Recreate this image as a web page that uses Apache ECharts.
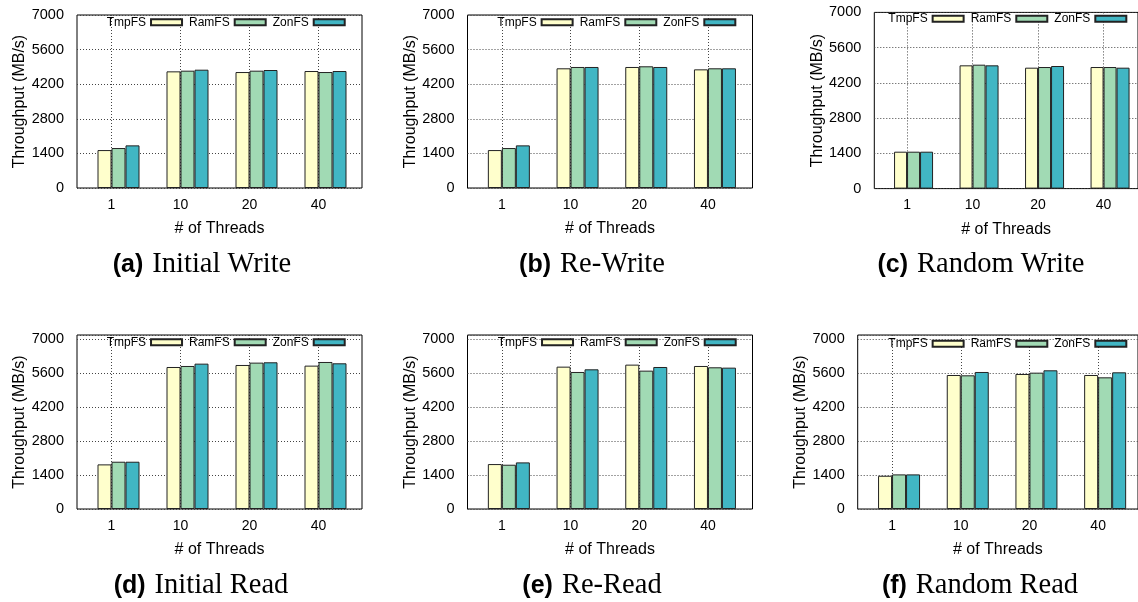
<!DOCTYPE html>
<html><head><meta charset="utf-8">
<script src="https://cdn.jsdelivr.net/npm/echarts@6/dist/echarts.min.js"></script>
<style>html,body{margin:0;padding:0;background:#fff}#c{width:1138px;height:602px}</style>
</head><body><div id="c"></div>
<script>
// ---- data ----
const categories = ['1', '10', '20', '40'];
const seriesNames = ['TmpFS', 'RamFS', 'ZonFS'];
const yTickStep = 1400;

const initialWriteTmpFS = [1535, 4720, 4692, 4733];
const initialWriteRamFS = [1617, 4747, 4747, 4692];
const initialWriteZonFS = [1725, 4787, 4774, 4733];

const reWriteTmpFS = [1535, 4843, 4897, 4801];
const reWriteRamFS = [1617, 4897, 4924, 4843];
const reWriteZonFS = [1725, 4897, 4897, 4843];

const randomWriteTmpFS = [1466, 4897, 4804, 4830];
const randomWriteRamFS = [1466, 4923, 4830, 4830];
const randomWriteZonFS = [1466, 4897, 4870, 4804];

const initialReadTmpFS = [1841, 5860, 5943, 5916];
const initialReadRamFS = [1951, 5902, 6040, 6067];
const initialReadZonFS = [1951, 5998, 6054, 6012];

const reReadTmpFS = [1854, 5874, 5957, 5902];
const reReadRamFS = [1827, 5654, 5709, 5847];
const reReadZonFS = [1923, 5764, 5860, 5833];

const randomReadTmpFS = [1372, 5530, 5571, 5530];
const randomReadRamFS = [1428, 5516, 5626, 5433];
const randomReadZonFS = [1428, 5654, 5723, 5640];

// ---- layout / style ----
const colors = ['#ffffcc', '#a1dab4', '#41b6c4'];
const SANS = 'Liberation Sans, Arial, Helvetica, sans-serif';
const SERIF = 'Liberation Serif, Times New Roman, serif';

const panels = [
  {tag: '(a)', caption: 'Initial Write', values: [initialWriteTmpFS, initialWriteRamFS, initialWriteZonFS],
   left: 77, top: 15, height: 173, width: 285, band: 69, bar: 14, yMax: 7000, legX: 106.7, legY: 21.7, capX: 202, capY: 265},
  {tag: '(b)', caption: 'Re-Write', values: [reWriteTmpFS, reWriteRamFS, reWriteZonFS],
   left: 467.5, top: 15, height: 173, width: 285, band: 68.7, bar: 14, yMax: 7000, legX: 497.3, legY: 21.7, capX: 592, capY: 265},
  {tag: '(c)', caption: 'Random Write', values: [randomWriteTmpFS, randomWriteRamFS, randomWriteZonFS],
   left: 874.3, top: 12.4, height: 176.2, width: 272, band: 65.5, bar: 13, yMax: 7000, legX: 888.3, legY: 18.3, capX: 981, capY: 265},
  {tag: '(d)', caption: 'Initial Read', values: [initialReadTmpFS, initialReadRamFS, initialReadZonFS],
   left: 77, top: 335, height: 174, width: 285, band: 69, bar: 14, yMax: 7180, legX: 106.7, legY: 341.7, capX: 201, capY: 586},
  {tag: '(e)', caption: 'Re-Read', values: [reReadTmpFS, reReadRamFS, reReadZonFS],
   left: 467.5, top: 335, height: 174, width: 285, band: 68.7, bar: 14, yMax: 7180, legX: 497.7, legY: 341.7, capX: 592, capY: 586},
  {tag: '(f)', caption: 'Random Read', values: [randomReadTmpFS, randomReadRamFS, randomReadZonFS],
   left: 857.7, top: 335, height: 174, width: 284, band: 68.7, bar: 14, yMax: 7180, legX: 888.3, legY: 343.3, capX: 980, capY: 586}
];

const grid = [], xAxis = [], yAxis = [], series = [], legend = [], graphic = [];
const gridLine = {type: [1, 2], color: '#444', width: 1};

panels.forEach((p, i) => {
  const fg = 2 * i, bg = 2 * i + 1;
  grid.push({left: p.left, top: p.top, width: p.width, height: p.height, show: true,
             borderColor: '#000', borderWidth: 1, backgroundColor: 'transparent'});
  grid.push({left: p.left, top: p.top, width: p.band * categories.length, height: p.height, show: false});

  xAxis.push({gridIndex: fg, type: 'value', min: 0, max: 1,
    axisLine: {show: false}, axisTick: {show: false}, axisLabel: {show: false}, splitLine: {show: false},
    name: '# of Threads', nameLocation: 'middle', nameGap: 33,
    nameTextStyle: {fontSize: 16, color: '#000', fontFamily: SANS}});
  xAxis.push({gridIndex: bg, type: 'category', data: categories,
    axisLine: {show: false}, axisTick: {show: false},
    axisLabel: {fontSize: 14, color: '#000', margin: 10, fontFamily: SANS},
    splitLine: {show: true, alignWithLabel: true, lineStyle: gridLine}});

  yAxis.push({gridIndex: fg, type: 'value', min: 0, max: p.yMax, interval: yTickStep,
    axisLine: {show: false}, axisTick: {show: false},
    axisLabel: {fontSize: 14.5, color: '#000', margin: 13, fontFamily: SANS,
      showMaxLabel: p.yMax % yTickStep === 0, formatter: v => String(v)},
    splitLine: {show: true, lineStyle: gridLine},
    name: 'Throughput (MB/s)', nameLocation: 'middle', nameGap: 47,
    nameTextStyle: {fontSize: 16, color: '#000', fontFamily: SANS}});
  yAxis.push({gridIndex: bg, type: 'value', min: 0, max: p.yMax, show: false});

  // empty leading slot (gnuplot cluster gap)
  series.push({type: 'bar', name: '_gap' + i, xAxisIndex: bg, yAxisIndex: bg, data: [],
    barWidth: p.bar, barGap: '0%'});
  seriesNames.forEach((n, k) => {
    series.push({type: 'bar', name: n, xAxisIndex: bg, yAxisIndex: bg, data: p.values[k],
      barWidth: p.bar, barGap: '0%',
      itemStyle: {color: colors[k], borderColor: '#222', borderWidth: 1},
      emphasis: {disabled: true}, animation: false});
  });

  legend.push({data: seriesNames, left: p.legX, top: p.legY - 5.5, align: 'right', orient: 'horizontal',
    padding: 0, itemWidth: 31, itemHeight: 6, itemGap: 6, icon: 'rect', selectedMode: false,
    textStyle: {fontSize: 12, color: '#000', fontFamily: SANS, width: 40, align: 'right'}});

  graphic.push({type: 'text', x: p.capX, y: p.capY, silent: true,
    style: {text: '{b|' + p.tag + '}{s| }{r|' + p.caption + '}', align: 'center', verticalAlign: 'middle',
      rich: {b: {fontFamily: SANS, fontWeight: 'bold', fontSize: 25, fill: '#000'},
             s: {fontFamily: SERIF, fontSize: 28, width: 9},
             r: {fontFamily: SERIF, fontSize: 28.5, fill: '#000'}}}});
});

const chart = echarts.init(document.getElementById('c'), null, {renderer: 'canvas'});
chart.setOption({animation: false, backgroundColor: '#fff', grid, xAxis, yAxis, series, legend, graphic});
</script></body></html>
